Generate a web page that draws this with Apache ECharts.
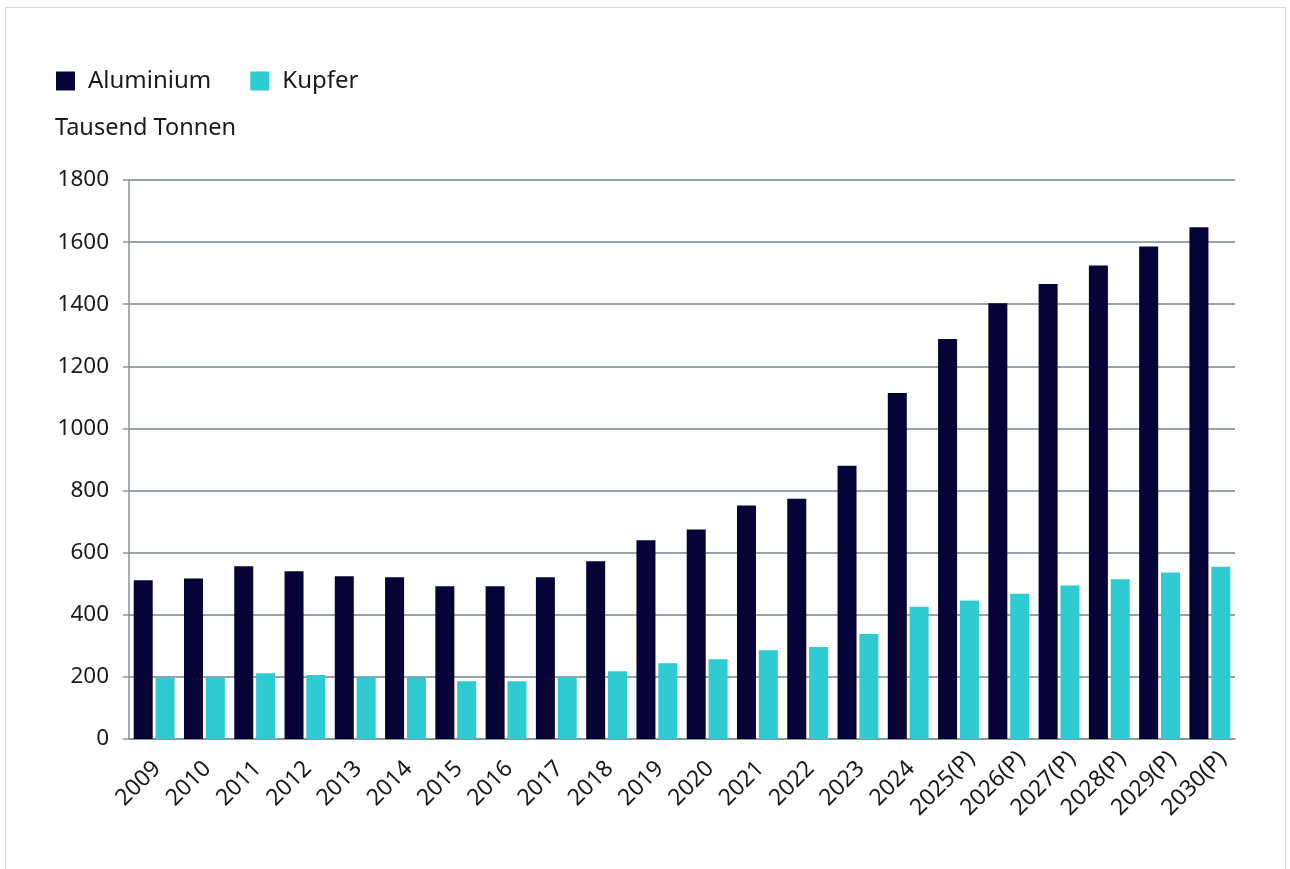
<!DOCTYPE html>
<html>
<head>
<meta charset="utf-8">
<script src="https://cdn.jsdelivr.net/npm/echarts@6/dist/echarts.min.js"></script>
<style>
  html, body { margin: 0; padding: 0; background: #fff; }
  #chart { box-sizing: border-box; border: 1.5px solid #d3dbe1; border-bottom: none; position: absolute; left: 5px; top: 7px; width: 1281px; height: 862px; }
</style>
</head>
<body>
<div id="chart"></div>
<script>
  // Kategorien (Jahre)
  var years = ['2009', '2010', '2011', '2012', '2013', '2014', '2015', '2016', '2017', '2018', '2019',
    '2020', '2021', '2022', '2023', '2024', '2025(P)', '2026(P)', '2027(P)', '2028(P)', '2029(P)', '2030(P)'];
  // Werte in Tausend Tonnen
  var aluminium = [511, 517, 556, 540, 524, 521, 492, 492, 521, 572, 640,
    675, 752, 774, 880, 1114, 1288, 1403, 1465, 1525, 1586, 1648];
  var kupfer = [198, 198, 212, 206, 199, 199, 186, 186, 199, 218, 244,
    257, 286, 296, 338, 426, 446, 468, 494, 514, 536, 555];
  var yTicks = { min: 0, max: 1800, interval: 200 };

  var font = 'Noto Sans';
  var textColor = '#1a1a1a';

  var myChart = echarts.init(document.getElementById('chart'));
  var option = {
    textStyle: { fontFamily: font, color: textColor },
    title: {
      text: 'Tausend Tonnen',
      left: 44,
      top: 103,
      textStyle: { fontFamily: font, fontSize: 23.5, fontWeight: 'normal', color: textColor }
    },
    legend: {
      left: 45,
      top: 56,
      icon: 'rect',
      itemWidth: 19,
      itemHeight: 19,
      itemGap: 39,
      textStyle: { fontFamily: font, fontSize: 24, color: textColor, padding: [0, 0, 0, 8] },
      data: ['Aluminium', 'Kupfer']
    },
    grid: {
      left: 123,
      right: 50,
      top: 172,
      bottom: 130,
      containLabel: false
    },
    xAxis: {
      type: 'category',
      data: years,
      axisLine: { show: true, lineStyle: { color: '#8a9399', width: 1.5 } },
      axisTick: { show: false },
      axisLabel: {
        rotate: 45,
        margin: 29,
        interval: 0,
        align: 'center',
        verticalAlign: 'middle',
        padding: [0, 44, 0, 0],
        fontFamily: font,
        fontSize: 23,
        color: textColor
      }
    },
    yAxis: {
      type: 'value',
      min: yTicks.min,
      max: yTicks.max,
      interval: yTicks.interval,
      axisLine: { show: true, lineStyle: { color: '#8a9399', width: 1.5 } },
      axisTick: { show: true, length: 6, lineStyle: { color: '#8a9399', width: 1.5 } },
      axisLabel: {
        margin: 20,
        fontFamily: font,
        fontSize: 22.5,
        color: textColor,
        formatter: function (v) { return String(v); }
      },
      splitLine: { show: true, lineStyle: { color: '#77838c', width: 1.5 } }
    },
    series: [
      {
        name: 'Aluminium',
        type: 'bar',
        data: aluminium,
        barWidth: 19,
        barGap: '15%',
        itemStyle: { color: '#060336' }
      },
      {
        name: 'Kupfer',
        type: 'bar',
        data: kupfer,
        barWidth: 19,
        itemStyle: { color: '#2ecbd2' }
      }
    ]
  };
  myChart.setOption(option);
</script>
</body>
</html>
